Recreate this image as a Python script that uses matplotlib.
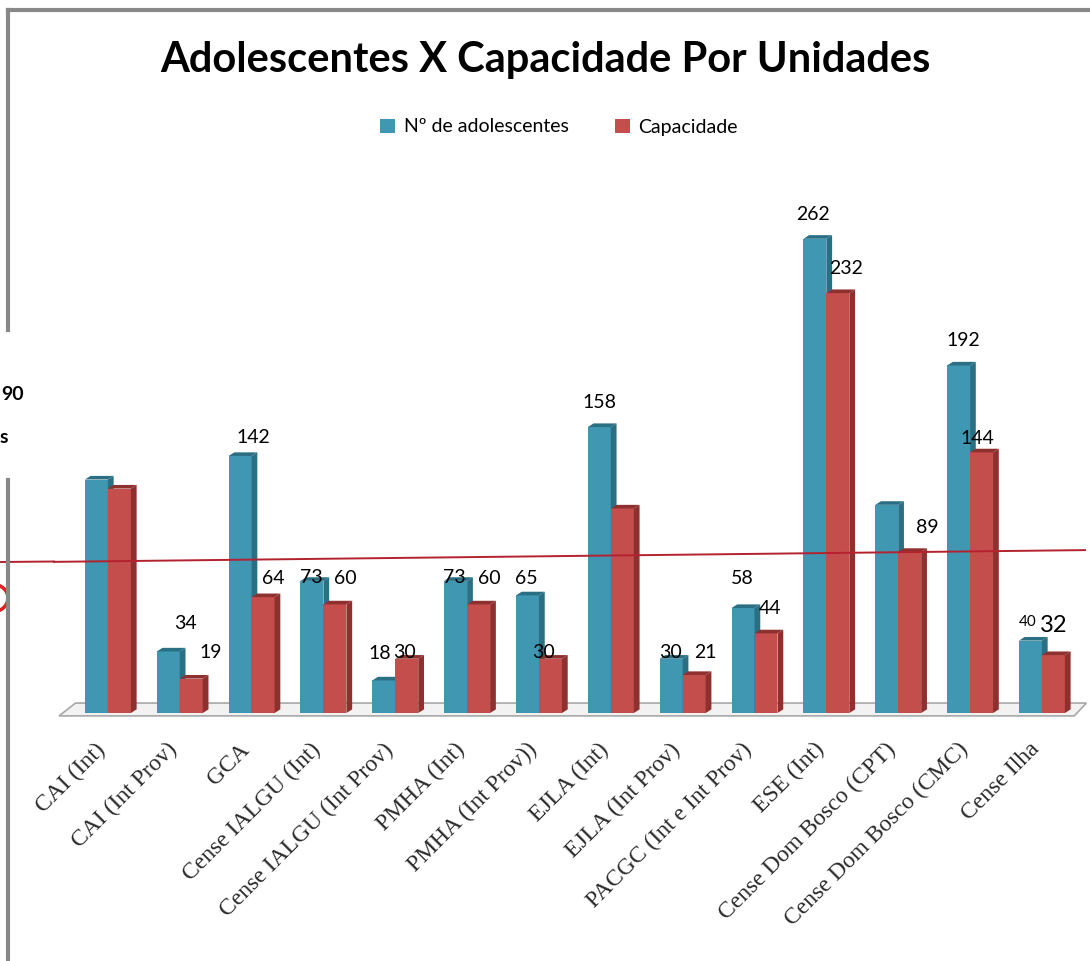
import matplotlib.pyplot as plt
from matplotlib.patches import Polygon, Patch, Ellipse
from matplotlib.lines import Line2D

units = ['CAI (Int)', 'CAI (Int Prov)', 'GCA', 'Cense IALGU (Int)',
         'Cense IALGU (Int Prov)', 'PMHA (Int)', 'PMHA (Int Prov))', 'EJLA (Int)',
         'EJLA (Int Prov)', 'PACGC (Int e Int Prov)', 'ESE (Int)',
         'Cense Dom Bosco (CPT)', 'Cense Dom Bosco (CMC)', 'Cense Ilha']
adolescentes = [129, 34, 142, 73, 18, 73, 65, 158, 30, 58, 262, 115, 192, 40]
capacidade = [124, 19, 64, 60, 30, 60, 30, 113, 21, 44, 232, 89, 144, 32]

# which values carry a data label (False = label not shown)
show_adol = [False, True, True, True, True, True, True, True, True, True, True, False, True, True]
show_cap = [False, True, True, True, True, True, True, False, True, True, True, True, True, True]

media = 90

# label offsets in pixels (dx, dy) from the top centre of each bar
off_adol = {1: (17, 28), 2: (13, 18), 3: (-1, 3), 4: (-4, 27), 5: (-1, 3), 6: (-1, 17),
            7: (0, 25), 8: (-1, 6), 9: (-1, 30), 10: (-2, 24), 12: (5, 25), 13: (-3, 19)}
off_cap = {1: (19, 26), 2: (10, 19), 3: (10, 26), 4: (-2, 6), 5: (11, 26), 6: (-7, 6),
           8: (11, 22), 9: (4, 25), 10: (8, 25), 11: (18, 24), 12: (-4, 14), 13: (0, 30)}

BLUE, BLUE_DK = '#3f97b1', '#2b6f84'
RED, RED_DK = '#c44e4b', '#8e302e'
W = 0.32      # bar width
DX, DY = 0.08, 2.0   # fake depth of the 3D bars

plt.rcParams['font.family'] = ['Lato', 'DejaVu Sans']

fig = plt.figure(figsize=(10.9, 9.61), dpi=100)
ax = fig.add_axes([54 / 1090, (961 - 713) / 961, 1031 / 1090, 543 / 961])
ax.set_xlim(-0.75, 13.6)
ax.set_ylim(0, 300)
ax.axis('off')

# floor of the chart
floor = Polygon([(-0.68, -1.6), (13.45, -1.6), (13.62, 5.5), (-0.45, 5.5)],
                closed=True, facecolor='#f2f2f2', edgecolor='#a8a8a8', lw=1.2,
                clip_on=False, zorder=1)
ax.add_patch(floor)


def bar3d(x0, h, face, dark):
    ax.add_patch(Polygon([(x0, 0), (x0 + W, 0), (x0 + W, h), (x0, h)],
                         facecolor=face, edgecolor='none', zorder=3, clip_on=False))
    ax.add_patch(Polygon([(x0 + W, 0), (x0 + W + DX, DY), (x0 + W + DX, h + DY), (x0 + W, h)],
                         facecolor=dark, edgecolor='none', zorder=3, clip_on=False))
    ax.add_patch(Polygon([(x0, h), (x0 + W, h), (x0 + W + DX, h + DY), (x0 + DX, h + DY)],
                         facecolor=dark, edgecolor='none', zorder=3, clip_on=False))


for i in range(len(units)):
    bar3d(i - W, adolescentes[i], BLUE, BLUE_DK)
    bar3d(i, capacidade[i], RED, RED_DK)

# average line across the whole figure
ax.plot([-0.752, 13.6], [media - 6.5, media], color='#b3222e', lw=1.4,
        zorder=4, clip_on=False)
fig.add_artist(Line2D([0, 54 / 1090], [(961 - 562) / 961, (961 - 561.5) / 961],
                      color='#b3222e', lw=1.4))

# data labels
for i in range(len(units)):
    if show_adol[i]:
        dx, dy = off_adol[i]
        fs = 11 if i == 13 else 14
        ax.annotate(str(adolescentes[i]), (i - W / 2, adolescentes[i]),
                    xytext=(dx, dy), textcoords='offset pixels',
                    ha='center', va='center', fontsize=fs, zorder=6)
    if show_cap[i]:
        dx, dy = off_cap[i]
        fs = 17 if i == 13 else 14
        ax.annotate(str(capacidade[i]), (i + W / 2, capacidade[i]),
                    xytext=(dx, dy), textcoords='offset pixels',
                    ha='center', va='center', fontsize=fs, zorder=6)

# category labels
for i, name in enumerate(units):
    ax.annotate(name, (i, 0), xytext=(-13, -26), textcoords='offset pixels',
                rotation=45, rotation_mode='anchor', ha='right', va='top',
                fontsize=17, family='Liberation Serif', color='#2a2a2a')

fig.text(0.5, 1 - 60 / 961, 'Adolescentes X Capacidade Por Unidades',
         ha='center', va='center', fontsize=30, fontweight='bold')

handles = [Patch(facecolor=BLUE, label='Nº de adolescentes'),
           Patch(facecolor=RED, label='Capacidade')]
fig.legend(handles=handles, loc='center', bbox_to_anchor=(0.513, 1 - 127 / 961),
           ncol=2, frameon=False, fontsize=14, handlelength=0.75, handleheight=0.75,
           columnspacing=2.4, handletextpad=0.45)

# outer frame (left side broken by the callout box)
grey = '#888888'
fig.add_artist(Line2D([8 / 1090, 1], [1 - 10 / 961, 1 - 10 / 961], color=grey, lw=3))
fig.add_artist(Line2D([8 / 1090, 8 / 1090], [1 - 10 / 961, 1 - 330 / 961], color=grey, lw=3))
fig.add_artist(Line2D([8 / 1090, 8 / 1090], [1 - 480 / 961, 0], color=grey, lw=3))

# callout at the left edge
fig.text(1 / 1090, 1 - 395 / 961, '90', ha='left', va='center',
         fontsize=14, fontweight='bold')
fig.text(0, 1 - 437 / 961, 's', ha='left', va='center',
         fontsize=14, fontweight='bold')
fig.add_artist(Ellipse((-8 / 1090, 1 - 598 / 961), 32 / 1090, 28 / 961,
                       facecolor='none', edgecolor='#e02020', lw=2.5))

fig.savefig('out.png', dpi=100)
